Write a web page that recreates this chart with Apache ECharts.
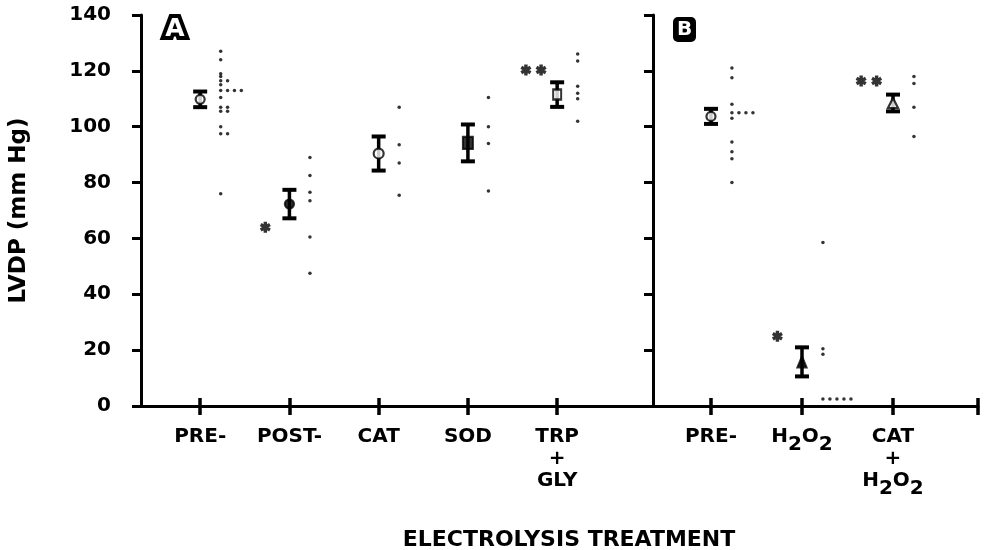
<!DOCTYPE html>
<html>
<head>
<meta charset="utf-8">
<title>LVDP - electrolysis treatment</title>
<script src="https://cdn.jsdelivr.net/npm/echarts@6/dist/echarts.min.js"></script>
<style>
  html, body { margin: 0; padding: 0; background: #fff; }
  #chart { width: 984px; height: 550px; }
</style>
</head>
<body>
<div id="chart"></div>
<script>
// panel A
const catsA = ['PRE-', 'POST-', 'CAT', 'SOD', 'TRP\n+\nGLY'];
const meanA = [109.8, 72.3, 90.4, 94.2, 111.5];
const semA = [2.8, 5.1, 6.1, 6.6, 4.4];
// individual hearts, sorted high to low (equal values are drawn side by side)
const dotsA = [
  [127, 124, 119, 118, 116.5, 116.5, 115, 113, 113, 113, 113, 110.5, 107, 107, 105.5, 105.5, 100, 97.5, 97.5, 76],
  [89, 82.5, 76.5, 73.5, 60.5, 47.5],
  [107, 93.5, 87, 75.5],
  [110.5, 100, 94, 77],
  [126, 123.5, 114.5, 112, 110, 102]
];
const starsA = [0, 1, 0, 0, 2];
const starYA = [null, 64, null, null, 120.3];

// panel B
const catsB = ['PRE-', 'H2O2', 'CAT\n+\nH2O2'];
const meanB = [103.7, 15.8, 108.5];
const semB = [2.7, 5.2, 3.0];
const dotsB = [
  [121, 117.5, 108, 105, 105, 105, 105, 103, 94.5, 91, 88.5, 80],
  [58.5, 20.5, 18.5, 2.5, 2.5, 2.5, 2.5, 2.5],
  [118, 115.5, 107, 96.5]
];
const starsB = [0, 1, 2];
const starYB = [null, 25, 116.4];

const FONT = 'DejaVu Sans';
const INK = '#000';
const FS = 20;

// mean marker per group
const markA = [
  { symbol: 'circle', fill: '#fff', size: 9 },
  { symbol: 'circle', fill: INK, size: 9 },
  { symbol: 'circle', fill: '#fff', size: 10 },
  { symbol: 'rect', fill: INK, size: [10, 12] },
  { symbol: 'rect', fill: '#fff', size: [8, 10] }
];
const markB = [
  { symbol: 'circle', fill: '#fff', size: 9 },
  { symbol: 'triangle', fill: INK, size: [9, 11] },
  { symbol: 'triangle', fill: '#fff', size: [10, 10] }
];

const STAR = 'path://M3.4,0L6.6,0L6.6,10L3.4,10ZM8.53,1.11L10.13,3.89L1.47,8.89L-0.13,6.11ZM10.13,6.11L8.53,8.89L-0.13,3.89L1.47,1.11Z';

function dotData(groups) {
  const out = [];
  groups.forEach((vals, i) => {
    let prev = null, col = 0;
    vals.forEach(v => {
      col = v === prev ? col + 1 : 0;
      prev = v;
      out.push([i + 1 + 0.23 + col * 0.077, v]);
    });
  });
  return out;
}

function barData(means, sems) {
  return means.map((m, i) => [i + 1, m, sems[i]]);
}

function meanData(means, marks) {
  return means.map((m, i) => ({
    value: [i + 1, m],
    symbol: marks[i].symbol,
    symbolSize: marks[i].size,
    itemStyle: { color: marks[i].fill, borderColor: INK, borderWidth: 2.2 }
  }));
}

function starData(counts, ys) {
  const out = [];
  counts.forEach((n, i) => {
    if (n === 1) out.push([i + 1 - 0.27, ys[i]]);
    if (n === 2) out.push([i + 1 - 0.35, ys[i]], [i + 1 - 0.18, ys[i]]);
  });
  return out;
}

function renderErr(params, api) {
  const x = api.value(0), m = api.value(1), s = api.value(2);
  const top = api.coord([x, m + s]);
  const bot = api.coord([x, m - s]);
  const hw = 7;
  const st = { stroke: INK, lineWidth: 4 };
  return {
    type: 'group',
    children: [
      { type: 'line', shape: { x1: top[0], y1: top[1], x2: bot[0], y2: bot[1] }, style: { stroke: INK, lineWidth: 3.5 } },
      { type: 'line', shape: { x1: top[0] - hw, y1: top[1], x2: top[0] + hw, y2: top[1] }, style: st },
      { type: 'line', shape: { x1: bot[0] - hw, y1: bot[1], x2: bot[0] + hw, y2: bot[1] }, style: st }
    ]
  };
}

function richLabel(s) {
  return s.split('\n').map(line =>
    line.replace(/([A-Z+\-]+)/g, '{n|$1}').replace(/\}2/g, '}{sub|2}')
  ).join('\n');
}

const labelStyle = {
  color: INK, fontFamily: FONT, fontWeight: 'bold', fontSize: FS
};

function xAxes(grid, min, max, ticks, labels, cats) {
  return [
    {
      type: 'value', gridIndex: grid, position: 'bottom', min: min, max: max,
      splitLine: { show: false },
      axisLine: { onZero: false, lineStyle: { color: INK, width: 3 } },
      axisTick: { customValues: ticks, length: 9, lineStyle: { color: INK, width: 3.5 } },
      axisLabel: Object.assign({}, labelStyle, {
        customValues: labels, margin: 21, lineHeight: 22,
        formatter: v => richLabel(cats[Math.round(v) - 1]),
        rich: {
          n: { color: INK, fontFamily: FONT, fontWeight: 'bold', fontSize: FS, lineHeight: 22, verticalAlign: 'top' },
          sub: { color: INK, fontFamily: FONT, fontWeight: 'bold', fontSize: FS, lineHeight: 28, verticalAlign: 'bottom' }
        }
      })
    },
    {
      type: 'value', gridIndex: grid, position: 'bottom', min: min, max: max,
      splitLine: { show: false },
      axisLine: { show: false, onZero: false },
      axisTick: { customValues: ticks, inside: true, length: 8, lineStyle: { color: INK, width: 3.5 } },
      axisLabel: { show: false }
    }
  ];
}

function yAxis(grid, showLabels) {
  return {
    type: 'value', gridIndex: grid, min: 0, max: 140, interval: 20,
    splitLine: { show: false },
    axisLine: { onZero: false, lineStyle: { color: INK, width: 3 } },
    axisTick: { length: 9, lineStyle: { color: INK, width: 3 } },
    axisLabel: Object.assign({}, labelStyle, { show: showLabels, margin: 30 }),
    name: showLabels ? 'LVDP (mm Hg)' : '',
    nameLocation: 'middle',
    nameGap: 110,
    nameTextStyle: { color: INK, fontFamily: FONT, fontWeight: 'bold', fontSize: 23 }
  };
}

function panelSeries(xIdx, yIdx, means, sems, dots, marks, counts, starYs) {
  return [
    {
      type: 'custom', xAxisIndex: xIdx, yAxisIndex: yIdx,
      renderItem: renderErr, data: barData(means, sems), z: 3
    },
    {
      type: 'scatter', xAxisIndex: xIdx, yAxisIndex: yIdx,
      data: meanData(means, marks), z: 4
    },
    {
      type: 'scatter', xAxisIndex: xIdx, yAxisIndex: yIdx,
      symbol: 'circle', symbolSize: 3.5, itemStyle: { color: INK },
      data: dotData(dots), z: 2
    },
    {
      type: 'scatter', xAxisIndex: xIdx, yAxisIndex: yIdx,
      symbol: STAR, symbolSize: 11, itemStyle: { color: INK },
      data: starData(counts, starYs), z: 2
    }
  ];
}

const chart = echarts.init(document.getElementById('chart'), null, { renderer: 'canvas' });

const option = {
  backgroundColor: '#fff',
  animation: false,
  grid: [
    { left: 139, top: 15, width: 514, height: 391 },
    { left: 653, top: 15, width: 325, height: 391 }
  ],
  xAxis: [].concat(
    xAxes(0, 0.337, 6.074, [1, 2, 3, 4, 5], [1, 2, 3, 4, 5], catsA),
    xAxes(1, 0.363, 3.934, [1, 2, 3, 3.934], [1, 2, 3], catsB)
  ),
  yAxis: [yAxis(0, true), yAxis(1, false)],
  graphic: [
    {
      type: 'text', x: 175, y: 29,
      style: {
        text: 'A', font: 'bold 25px ' + FONT, fill: '#fff', stroke: INK, lineWidth: 8,
        strokeFirst: true, align: 'center', verticalAlign: 'middle'
      }
    },
    {
      type: 'rect', shape: { x: 673, y: 17, width: 23, height: 25, r: 5 },
      style: { fill: INK }
    },
    {
      type: 'text', x: 684.5, y: 30,
      style: { text: 'B', font: 'bold 20px ' + FONT, fill: '#fff', align: 'center', verticalAlign: 'middle' }
    },
    {
      type: 'text', x: 569, y: 540,
      style: {
        text: 'ELECTROLYSIS TREATMENT', font: 'bold 22px ' + FONT, fill: INK,
        align: 'center', verticalAlign: 'middle'
      }
    }
  ],
  series: [].concat(
    panelSeries(0, 0, meanA, semA, dotsA, markA, starsA, starYA),
    panelSeries(2, 1, meanB, semB, dotsB, markB, starsB, starYB)
  )
};

chart.setOption(option);
</script>
</body>
</html>
